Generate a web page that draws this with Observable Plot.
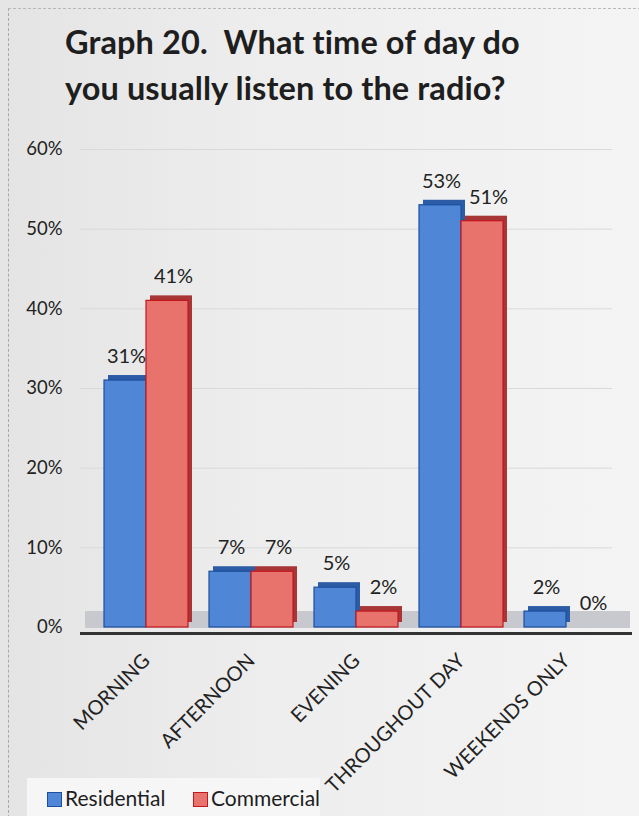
<!DOCTYPE html>
<html>
<head>
<meta charset="utf-8">
<script src="https://cdn.jsdelivr.net/npm/d3@7"></script>
<script src="https://cdn.jsdelivr.net/npm/@observablehq/plot@0.6"></script>
<style>
  html, body { margin: 0; padding: 0; }
  body {
    width: 639px; height: 816px; overflow: hidden; position: relative;
    background: linear-gradient(90deg, #e4e4e4 0%, #ededed 40%, #f4f4f4 100%);
    font-family: Lato, "Noto Sans", sans-serif;
  }
  #frame {
    position: absolute; left: 8px; top: 8px; right: -2px; bottom: -2px;
    border-left: 1px dashed #a8a8a8; border-top: 1px dashed #b8b8b8;
  }
  #title {
    position: absolute; left: 65px; top: 19px;
    font-size: 32.5px; font-weight: 700; line-height: 46px; color: #1e1e1e;
    white-space: nowrap; letter-spacing: 0.1px;
  }
  #chart { position: absolute; left: 0; top: 125px; }
  #chart svg { background: transparent; overflow: visible; }
  #legend {
    position: absolute; left: 27px; top: 778px; width: 293px; height: 40px;
    background: #f6f6f6; font-size: 21px; color: #1e1e1e;
  }
  .item { position: absolute; top: 8px; line-height: 24px; white-space: nowrap; }
  .sw { display: inline-block; width: 13px; height: 13px; vertical-align: -1px; margin-right: 3px; }
</style>
</head>
<body>
<div id="frame"></div>
<div id="title">Graph 20.&nbsp; What time of day do<br>you usually listen to the radio?</div>
<div id="chart"></div>
<div id="legend"></div>
<script>
const categories = ["MORNING", "AFTERNOON", "EVENING", "THROUGHOUT DAY", "WEEKENDS ONLY"];
const seriesNames = ["Residential", "Commercial"];
const residential = [31, 7, 5, 53, 2];
const commercial = [41, 7, 2, 51, 0];
const yTicks = [0, 10, 20, 30, 40, 50, 60];

const colors = {
  Residential: { front: "#4f86d6", side: "#2c5ca6", edge: "#1d4f9e" },
  Commercial: { front: "#e8736d", side: "#a83636", edge: "#c2171d" }
};

const resRows = categories.map((c, i) => ({ category: c, series: seriesNames[0], value: residential[i] }));
const comRows = categories.map((c, i) => ({ category: c, series: seriesNames[1], value: commercial[i] }));

const W = 639, H = 655;
const half = 42;

const plot = Plot.plot({
  width: W,
  height: H,
  marginTop: 24,
  marginBottom: 153,
  marginLeft: 93,
  marginRight: 21,
  style: { background: "transparent", fontFamily: "Lato, 'Noto Sans', sans-serif", color: "#222" },
  x: { type: "band", domain: categories, paddingInner: 0.2, paddingOuter: 0.1, label: null },
  y: { domain: [0, 60], ticks: yTicks, label: null },
  marks: [
    Plot.ruleY(yTicks.filter(d => d > 0), { stroke: "#d9d9d9", strokeWidth: 1, insetLeft: -13, insetRight: 6 }),
    Plot.ruleY([0], { stroke: "#c8c9ce", strokeWidth: 17, dy: -8, insetLeft: -8, insetRight: -12 }),
    Plot.ruleY([0], { stroke: "#333333", strokeWidth: 3, dy: 6, insetLeft: -13, insetRight: -14 }),
    Plot.barY(resRows.filter(d => d.value > 0), { x: "category", y: "value", insetRight: half, dx: 4, dy: -5, fill: colors.Residential.side }),
    Plot.barY(resRows, { x: "category", y: "value", insetRight: half, fill: colors.Residential.front, stroke: colors.Residential.edge, strokeWidth: 1.2 }),
    Plot.barY(comRows.filter(d => d.value > 0), { x: "category", y: "value", insetLeft: half, dx: 4, dy: -5, fill: colors.Commercial.side }),
    Plot.barY(comRows, { x: "category", y: "value", insetLeft: half, fill: colors.Commercial.front, stroke: colors.Commercial.edge, strokeWidth: 1.2 }),
    Plot.text(resRows, { x: "category", y: "value", text: d => d.value + "%", dx: -20, dy: -24, fontSize: 20, fill: "#222" }),
    Plot.text(comRows, { x: "category", y: "value", text: d => d.value + "%", dx: 27, dy: -24, fontSize: 20, fill: "#222" }),
    Plot.axisY({ ticks: yTicks, tickFormat: d => d + "%", tickSize: 0, tickPadding: 31, fontSize: 18.5, label: null }),
    Plot.axisX({ tickRotate: -45, tickSize: 0, tickPadding: 30, dx: 0, fontSize: 20, label: null })
  ]
});
document.getElementById("chart").appendChild(plot);

const legend = document.getElementById("legend");
const lefts = [20, 166];
seriesNames.forEach((s, i) => {
  const el = document.createElement("div");
  el.className = "item";
  el.style.left = lefts[i] + "px";
  el.innerHTML = `<span class="sw" style="background:${colors[s].front};border:1px solid ${colors[s].edge}"></span>${s}`;
  legend.appendChild(el);
});
</script>
</body>
</html>
